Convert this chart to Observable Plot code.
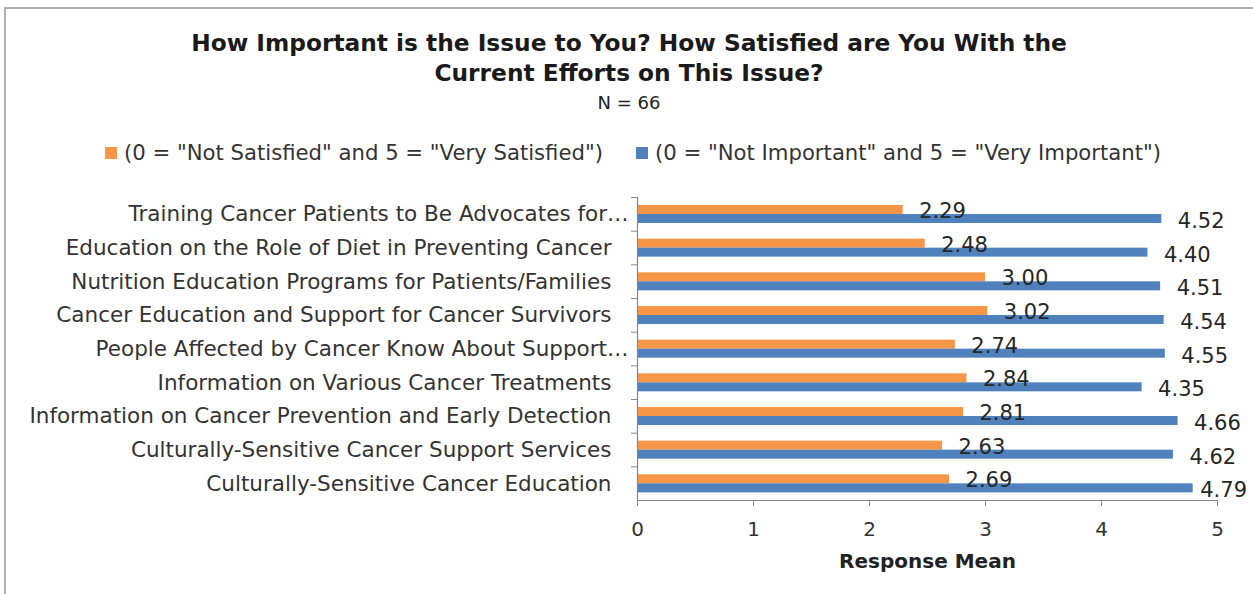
<!DOCTYPE html>
<html><head><meta charset="utf-8">
<script src="https://cdn.jsdelivr.net/npm/d3@7"></script>
<script src="https://cdn.jsdelivr.net/npm/@observablehq/plot@0.6"></script>
<style>
body{margin:0;background:#fff;width:1253px;height:594px;overflow:hidden;position:relative;font-family:"DejaVu Sans",sans-serif;}
#frame{position:absolute;left:4px;top:7px;width:1260px;height:600px;border-left:2px solid #b0b0b0;border-top:2px solid #b0b0b0;}
#title{position:absolute;left:5px;width:1248px;top:28px;text-align:center;font-weight:bold;font-size:23.3px;line-height:30px;color:#1a1a1a;}
#sub{position:absolute;left:5px;width:1248px;top:92px;text-align:center;font-size:18px;line-height:22px;color:#222;}
.leg{position:absolute;top:142px;font-size:21.2px;line-height:22px;color:#333;display:flex;align-items:center;white-space:nowrap;}
.sw{width:12px;height:12px;margin-right:7px;}
#chart{position:absolute;left:0;top:185px;}
</style></head><body>
<div id="frame"></div>
<div id="title">How Important is the Issue to You? How Satisfied are You With the<br>Current Efforts on This Issue?</div>
<div id="sub">N = 66</div>
<div id="legend"></div>
<div id="chart"></div>
<script>
const categories = [
  "Training Cancer Patients to Be Advocates for\u2026",
  "Education on the Role of Diet in Preventing Cancer",
  "Nutrition Education Programs for Patients/Families",
  "Cancer Education and Support for Cancer Survivors",
  "People Affected by Cancer Know About Support\u2026",
  "Information on Various Cancer Treatments",
  "Information on Cancer Prevention and Early Detection",
  "Culturally-Sensitive Cancer Support Services",
  "Culturally-Sensitive Cancer Education"
];
const satisfied = [2.29, 2.48, 3.00, 3.02, 2.74, 2.84, 2.81, 2.63, 2.69];
const important = [4.52, 4.40, 4.51, 4.54, 4.55, 4.35, 4.66, 4.62, 4.79];
const seriesNames = ['(0 = "Not Satisfied" and 5 = "Very Satisfied")', '(0 = "Not Important" and 5 = "Very Important")'];
const colors = ["#F79646", "#4F81BD"];
const xTicks = [0, 1, 2, 3, 4, 5];
const xLabel = "Response Mean";

// legend
const legend = document.getElementById("legend");
const legLeft = [105, 636];
seriesNames.forEach((s, i) => {
  const d = document.createElement("div");
  d.className = "leg";
  d.style.left = legLeft[i] + "px";
  d.innerHTML = `<span class="sw" style="background:${colors[i]}"></span><span></span>`;
  d.lastChild.textContent = s;
  legend.appendChild(d);
});

const rows = categories.map((c, i) => ({cat: c, sat: satisfied[i], imp: important[i]}));
const H = 400, mt = 12, mb = 85;
const step = (H - mt - mb) / categories.length;
const ell = categories.filter(c => c.endsWith("\u2026"));
const plain = categories.filter(c => !c.endsWith("\u2026"));
const font = "DejaVu Sans";

const chart = Plot.plot({
  width: 1253, height: H,
  marginLeft: 637, marginRight: 36, marginTop: mt, marginBottom: mb,
  style: {fontFamily: font, background: "transparent"},
  x: {domain: [0, 5]},
  y: {domain: categories, padding: 0, round: false},
  marks: [
    Plot.barX(rows, {x: "sat", y: "cat", fill: colors[0], insetTop: 8, insetBottom: step - 17}),
    Plot.barX(rows, {x: "imp", y: "cat", fill: colors[1], insetTop: 17, insetBottom: step - 26}),
    Plot.text(rows, {x: "sat", y: "cat", text: d => d.sat.toFixed(2), textAnchor: "start", dx: 16, dy: -3, fontSize: 21, fill: "#262626"}),
    Plot.text(rows, {x: "imp", y: "cat", text: d => d.imp.toFixed(2), textAnchor: "start", dx: 16, dy: 7, fontSize: 21, fill: "#262626"}),
    Plot.ruleX([0], {stroke: "#868686", strokeWidth: 1.2}),
    Plot.ruleY(categories, {y: d => d, x1: 0, x2: 0, insetLeft: -6, dy: -step / 2, stroke: "#868686"}),
    Plot.ruleY([categories[categories.length - 1]], {y: d => d, x1: 0, x2: 5, dy: step / 2, stroke: "#868686", strokeWidth: 1.2}),
    Plot.axisX({ticks: xTicks, tickFormat: "d", tickSize: 6, tickPadding: 15, fontSize: 20, label: null, stroke: "#868686", color: "#333"}),
    Plot.axisY(plain, {tickSize: 0, tickPadding: 26, fontSize: 21.5, label: null, color: "#333"}),
    Plot.axisY(ell, {tickSize: 0, tickPadding: 9, fontSize: 21.5, label: null, color: "#333"}),
    Plot.text([xLabel], {frameAnchor: "bottom", dy: 67, text: d => d, fontWeight: "bold", fontSize: 20, fill: "#222"})
  ]
});
document.getElementById("chart").appendChild(chart);

// keep data labels inside the chart area, as the original does
const limit = 1247;
chart.querySelectorAll("text").forEach(t => {
  if (!/^\d\.\d\d$/.test(t.textContent)) return;
  const r = t.getBoundingClientRect();
  const over = r.right - limit;
  if (over > 0) {
    const tr = t.getAttribute("transform") || "";
    t.setAttribute("transform", tr + ` translate(${-over},0)`);
  }
});
</script>
</body></html>
